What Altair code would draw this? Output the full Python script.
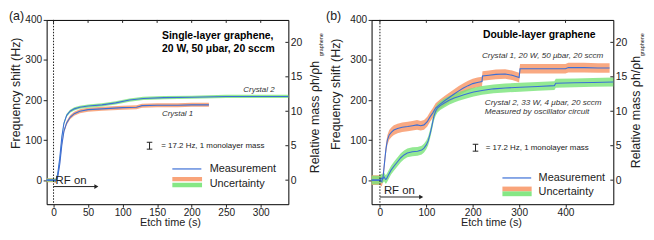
import altair as alt
import pandas as pd

# ---------------- data ----------------
# Panel (a): single-layer graphene
a_c1_t = [-10, 0, 3, 6, 9, 12, 15, 19, 24, 30, 38, 50, 70, 100, 120, 124, 128, 150, 180, 200, 225]
a_c1_v = [0, 0, -2, 8, 40, 88, 122, 143, 157, 166, 172, 176, 178, 181, 182, 184, 186, 187, 187, 188, 188]
a_c1_u = 5.0
a_c2_t = [-10, 0, 3, 6, 9, 12, 15, 19, 24, 30, 38, 50, 70, 90, 110, 130, 160, 200, 250, 300, 340]
a_c2_v = [0, 0, -1, 15, 55, 108, 142, 162, 172, 178, 182, 185, 188, 193, 200, 204, 206, 207, 209, 209, 209]
a_c2_u = 4.0

# Panel (b): double-layer graphene
b_c1_t = [-18, 0, 4, 7, 10, 13, 16, 20, 25, 30, 38, 48, 60, 70, 80, 88, 95, 102, 108, 114, 120,
          130, 140, 150, 160, 170, 180, 190, 200, 210, 220, 221, 235, 250, 270, 285, 295, 300,
          302, 330, 360, 400, 406, 440, 470, 495]
b_c1_v = [0, 0, -4, 10, 45, 78, 100, 113, 120, 125, 129, 132, 134, 136, 138, 136, 138, 146, 158,
          168, 180, 190, 199, 207, 215, 223, 230, 236, 241, 244, 246, 260, 262, 264, 265, 262,
          258, 256, 278, 278, 278, 278, 281, 281, 280, 280]
b_c1_u = 12.0
b_c2_t = [-18, 0, 3, 6, 9, 12, 14, 18, 24, 31, 38, 45, 52, 59, 70, 81, 90, 95, 100, 104, 108,
          112, 116, 120, 124, 130, 138, 150, 160, 170, 181, 192, 202, 220, 245, 270, 302, 340,
          376, 379, 420, 460, 503]
b_c2_v = [0, 0, 5, 3, 8, 2, 3, 12, 25, 36, 46, 56, 63, 68, 71, 72, 75, 80, 88, 98, 115, 135,
          158, 172, 180, 186, 192, 200, 205, 209, 213, 217, 220, 224, 228, 230, 232, 234, 236,
          242, 243, 244, 245]
b_c2_u = 11.0

a_xticks = [0, 50, 100, 150, 200, 250, 300]
b_xticks = [0, 100, 200, 300, 400]
hz_ticks = [0, 100, 200, 300, 400]
mass_ticks = [0, 5, 10, 15, 20]
HZ_PER_LAYER = 17.2
HZ_DOMAIN = [-60, 400]

# ---------------- style ----------------
W, H = 244, 186
BLUE = "#3b6fd6"
ORANGE = "#f89a6c"
GREEN = "#78e478"
INK = "#222222"
FONT = "Liberation Sans"
LBL = 10.2


def series_df(t, v, u):
    return pd.DataFrame({"t": t, "v": v,
                         "lo": [x - u for x in v], "hi": [x + u for x in v]})


def make_panel(xdom, xticks, c1, c2, ann, px):
    xscale = alt.Scale(domain=xdom, nice=False, zero=False)
    yscale = alt.Scale(domain=HZ_DOMAIN, nice=False, zero=False)
    xaxis = alt.Axis(values=xticks, title=None, tickSize=3, labelPadding=0, domain=False,
                     grid=False, labelFont=FONT, labelFontSize=LBL, labelColor=INK,
                     tickColor=INK, labelFlush=False)
    yaxis = alt.Axis(values=hz_ticks, title=None, tickSize=3.5, labelPadding=1.5, domain=False,
                     grid=False, labelFont=FONT, labelFontSize=LBL, labelColor=INK,
                     tickColor=INK)

    def X(f):
        return alt.X(f"{f}:Q", scale=xscale, axis=xaxis)

    def Y(f):
        return alt.Y(f"{f}:Q", scale=yscale, axis=yaxis)

    d1 = series_df(*c1)
    d2 = series_df(*c2)
    layers = [
        alt.Chart(d1).mark_area(color=ORANGE, opacity=0.85).encode(x=X("t"), y=Y("lo"), y2="hi:Q"),
        alt.Chart(d2).mark_area(color=GREEN, opacity=0.8).encode(x=X("t"), y=Y("lo"), y2="hi:Q"),
        alt.Chart(d1).mark_line(color=BLUE, strokeWidth=1.1).encode(x=X("t"), y=Y("v")),
        alt.Chart(d2).mark_line(color=BLUE, strokeWidth=1.1).encode(x=X("t"), y=Y("v")),
        alt.Chart(pd.DataFrame({"t": [0]})).mark_rule(
            color="black", strokeDash=[1.5, 1.5], strokeWidth=0.9).encode(x=X("t")),
        # top (mirror) ticks pointing inward
        alt.Chart(pd.DataFrame({"t": xticks})).mark_rule(color=INK, strokeWidth=1).encode(
            x=X("t"), y=alt.value(0), y2=alt.value(3)),
    ]
    # text annotations in data coordinates
    for spec in ann["texts"]:
        df = pd.DataFrame({"t": [spec["t"]], "y": [spec["y"]], "text": [spec["text"]]})
        layers.append(alt.Chart(df).mark_text(
            align=spec.get("align", "left"), baseline="middle", font=FONT,
            fontSize=spec["size"], fontWeight=spec.get("weight", "normal"),
            fontStyle=spec.get("style", "normal"), color=spec.get("color", INK)
        ).encode(x=X("t"), y=Y("y"), text="text:N"))
    # I-bar showing one monolayer mass
    ib = ann["ibar"]
    half = HZ_PER_LAYER / 2
    layers.append(alt.Chart(pd.DataFrame({"t": [ib["t"]], "y1": [ib["y"] - half], "y2": [ib["y"] + half]}))
                  .mark_rule(color=INK, strokeWidth=1).encode(x=X("t"), y=Y("y1"), y2="y2:Q"))
    layers.append(alt.Chart(pd.DataFrame({"t1": [ib["t"] - ib["cap"]] * 2, "t2": [ib["t"] + ib["cap"]] * 2,
                                          "y": [ib["y"] - half, ib["y"] + half]}))
                  .mark_rule(color=INK, strokeWidth=1).encode(x=X("t1"), x2="t2:Q", y=Y("y")))
    # legend
    lg = ann["legend"]
    layers.append(alt.Chart(pd.DataFrame({"t1": [lg["t1"]], "t2": [lg["t2"]], "y": [lg["yline"]]}))
                  .mark_rule(color=BLUE, strokeWidth=1.2).encode(x=X("t1"), x2="t2:Q", y=Y("y")))
    layers.append(alt.Chart(pd.DataFrame({"t1": [lg["t1"]], "t2": [lg["t2"] + 1],
                                          "y1": [lg["orange"][0]], "y2": [lg["orange"][1]]}))
                  .mark_rect(color=ORANGE, opacity=0.9).encode(x=X("t1"), x2="t2:Q", y=Y("y1"), y2="y2:Q"))
    layers.append(alt.Chart(pd.DataFrame({"t1": [lg["t1"]], "t2": [lg["t2"] + 1],
                                          "y1": [lg["green"][0]], "y2": [lg["green"][1]]}))
                  .mark_rect(color=GREEN, opacity=0.9).encode(x=X("t1"), x2="t2:Q", y=Y("y1"), y2="y2:Q"))
    # RF on arrow
    rf = ann["rf"]
    layers.append(alt.Chart(pd.DataFrame({"t1": [0], "t2": [rf["t_end"]], "y": [rf["y"]]}))
                  .mark_rule(color=INK, strokeWidth=1).encode(x=X("t1"), x2="t2:Q", y=Y("y")))
    layers.append(alt.Chart(pd.DataFrame({"t": [rf["t_end"]], "y": [rf["y"]]}))
                  .mark_point(shape="triangle-right", filled=True, color=INK, size=22, opacity=1)
                  .encode(x=X("t"), y=Y("y")))
    # texts positioned relative to the plot frame (labels, axis titles)
    for spec in px:
        df = pd.DataFrame({"text": [spec["text"]]})
        layers.append(alt.Chart(df).mark_text(
            align=spec.get("align", "center"), baseline=spec.get("baseline", "middle"),
            angle=spec.get("angle", 0), font=FONT, fontSize=spec["size"], color=INK
        ).encode(x=alt.value(spec["x"]), y=alt.value(spec["y"]), text="text:N"))

    left = alt.layer(*layers)
    right = alt.Chart(pd.DataFrame({"m": mass_ticks})).mark_rule(color=INK, strokeWidth=1).encode(
        y=alt.Y("m:Q",
                scale=alt.Scale(domain=[HZ_DOMAIN[0] / HZ_PER_LAYER, HZ_DOMAIN[1] / HZ_PER_LAYER],
                                nice=False, zero=False),
                axis=alt.Axis(orient="right", values=mass_ticks, title=None, ticks=False,
                              labelPadding=2, domain=False, grid=False, labelFont=FONT,
                              labelFontSize=10.5, labelColor=INK)),
        x=alt.value(W - 3), x2=alt.value(W))
    return alt.layer(left, right).resolve_scale(y="independent").properties(width=W, height=H)


ann_a = {
    "texts": [
        {"t": 157, "y": 360, "text": "Single-layer graphene,", "size": 10.5, "weight": "bold", "color": "black"},
        {"t": 157, "y": 328, "text": "20 W, 50 μbar, 20 sccm", "size": 10.5, "weight": "bold", "color": "black"},
        {"t": 320, "y": 224, "text": "Crystal 2", "size": 8, "style": "italic", "align": "right", "color": "#333"},
        {"t": 157, "y": 164, "text": "Crystal 1", "size": 8, "style": "italic", "color": "#333"},
        {"t": 156, "y": 86, "text": "= 17.2 Hz, 1 monolayer mass", "size": 8},
        {"t": 226, "y": 28, "text": "Measurement", "size": 11},
        {"t": 226, "y": -9.5, "text": "Uncertainty", "size": 11},
        {"t": 3, "y": -3, "text": "RF on", "size": 11.5},
    ],
    "ibar": {"t": 139, "y": 86, "cap": 4},
    "legend": {"t1": 172, "t2": 214, "yline": 28, "orange": [-2.4, 8], "green": [-17.4, -6.4]},
    "rf": {"y": -16, "t_end": 62},
}
px_a = [
    {"text": "(a)", "x": -38, "y": -10, "size": 12.5, "align": "left", "baseline": "top"},
    {"text": "Frequency shift (Hz)", "x": -31, "y": 74, "size": 12.5, "angle": 270},
    {"text": "Relative mass ρh/ρh", "x": W + 27, "y": 98, "size": 12.5, "angle": 270},
    {"text": "graphene", "x": W + 33, "y": 25, "size": 5.5, "angle": 270},
    {"text": "Etch time (s)", "x": W / 2 + 3, "y": H + 19.5, "size": 11},
]

ann_b = {
    "texts": [
        {"t": 222, "y": 362, "text": "Double-layer graphene", "size": 10.5, "weight": "bold", "color": "black"},
        {"t": 220, "y": 310, "text": "Crystal 1, 20 W, 50 μbar, 20 sccm", "size": 8.2, "style": "italic", "color": "#333"},
        {"t": 226, "y": 192, "text": "Crystal 2, 33 W, 4 μbar, 20 sccm", "size": 8.2, "style": "italic", "color": "#333"},
        {"t": 226, "y": 170, "text": "Measured by oscillator circuit", "size": 8.2, "style": "italic", "color": "#333"},
        {"t": 228, "y": 81, "text": "= 17.2 Hz, 1 monolayer mass", "size": 8},
        {"t": 342, "y": 5.5, "text": "Measurement", "size": 11},
        {"t": 342, "y": -29.5, "text": "Uncertainty", "size": 11},
        {"t": 8.5, "y": -26, "text": "RF on", "size": 11.5},
    ],
    "ibar": {"t": 206, "y": 81, "cap": 6},
    "legend": {"t1": 264, "t2": 326, "yline": 5.5, "orange": [-28, -16], "green": [-40, -28]},
    "rf": {"y": -42, "t_end": 89},
}
px_b = [
    {"text": "(b)", "x": -46, "y": -10, "size": 12.5, "align": "left", "baseline": "top"},
    {"text": "Frequency shift (Hz)", "x": -36, "y": 75, "size": 12.5, "angle": 270},
    {"text": "Relative mass ρh/ρh", "x": W + 23, "y": 93, "size": 12.5, "angle": 270},
    {"text": "graphene", "x": W + 29, "y": 25, "size": 5.5, "angle": 270},
    {"text": "Etch time (s)", "x": W / 2 - 1, "y": H + 19.5, "size": 11},
]

pa = make_panel([-10, 340], a_xticks, (a_c1_t, a_c1_v, a_c1_u), (a_c2_t, a_c2_v, a_c2_u), ann_a, px_a)
pb = make_panel([-18, 503], b_xticks, (b_c1_t, b_c1_v, b_c1_u), (b_c2_t, b_c2_v, b_c2_u), ann_b, px_b)

chart = alt.hconcat(pa, pb, spacing=84, bounds="flush").configure_view(
    stroke="black", strokeWidth=1).properties(padding=0, background="white")

chart.save("out.html", embed_options={"renderer": "svg", "actions": False})
